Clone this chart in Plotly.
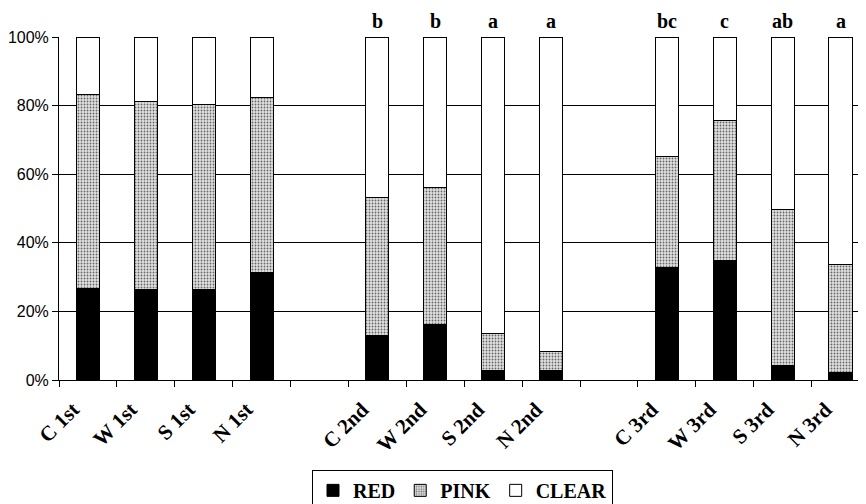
import plotly.graph_objects as go

categories = ["C 1st", "W 1st", "S 1st", "N 1st", "\u200b",
              "C 2nd", "W 2nd", "S 2nd", "N 2nd", "\u200b\u200b",
              "C 3rd", "W 3rd", "S 3rd", "N 3rd"]
red = [26.7, 26.4, 26.4, 31.4, None, 12.9, 16.1, 2.9, 2.9, None, 32.7, 34.8, 4.2, 2.2]
pink = [56.6, 54.7, 53.8, 50.9, None, 40.4, 40.0, 10.7, 5.4, None, 32.6, 41.0, 45.4, 31.5]
clear = [16.7, 18.9, 19.8, 17.7, None, 46.7, 43.9, 86.4, 91.7, None, 34.7, 24.2, 50.4, 66.3]
letters = ["", "", "", "", "", "b", "b", "a", "a", "", "bc", "c", "ab", "a"]
y_ticks = [0, 20, 40, 60, 80, 100]
y_ticktext = ["0%", "20%", "40%", "60%", "80%", "100%"]

serif = "Liberation Serif, Times New Roman, serif"
sans = "Liberation Sans, Arial, sans-serif"

fig = go.Figure()
fig.add_trace(go.Bar(x=categories, y=red, name="RED",
                     marker=dict(color="black", line=dict(color="black", width=1))))
fig.add_trace(go.Bar(x=categories, y=pink, name="PINK",
                     marker=dict(color="#d9d9d9",
                                 pattern=dict(shape=".", fgcolor="#666666", bgcolor="#e2e2e2",
                                              size=3, solidity=0.3, fillmode="replace"),
                                 line=dict(color="black", width=1))))
fig.add_trace(go.Bar(x=categories, y=clear, name="CLEAR",
                     marker=dict(color="white", line=dict(color="black", width=1))))

for cat, lab in zip(categories, letters):
    if lab:
        fig.add_annotation(x=cat, y=1, xref="x", yref="paper", text=lab, showarrow=False,
                           yanchor="bottom", yshift=3,
                           font=dict(family=serif, size=20, color="black", weight="bold"))

fig.update_layout(
    template="none",
    barmode="stack",
    bargap=0.6,
    width=858, height=496,
    margin=dict(l=51, r=0, t=29, b=124, autoexpand=False),
    plot_bgcolor="white", paper_bgcolor="white",
    legend=dict(orientation="h", x=0.5, xanchor="center", y=-0.262, yanchor="top",
                bordercolor="black", borderwidth=1, itemwidth=30,
                font=dict(family=serif, size=20, color="black", weight="bold"),
                traceorder="normal", tracegroupgap=0),
    showlegend=True,
)
fig.update_xaxes(type="category", categoryorder="array", categoryarray=categories,
                 range=[-0.5, 13.44], tickson="boundaries", ticks="outside", ticklen=6,
                 tickcolor="black", showline=True, linecolor="black", linewidth=1,
                 showgrid=False, tickangle=-45, automargin=False,
                 ticklabelshift=-15, ticklabelstandoff=8,
                 tickfont=dict(family=serif, size=21, color="black", weight="bold"))
fig.update_yaxes(range=[0, 100], tickvals=y_ticks, ticktext=y_ticktext, ticks="outside",
                 ticklen=6, tickcolor="black", showline=True, linecolor="black",
                 showgrid=True, gridcolor="black", gridwidth=1, zeroline=False,
                 automargin=False,
                 tickfont=dict(family=sans, size=16, color="black"))

fig.write_html("out.html")
